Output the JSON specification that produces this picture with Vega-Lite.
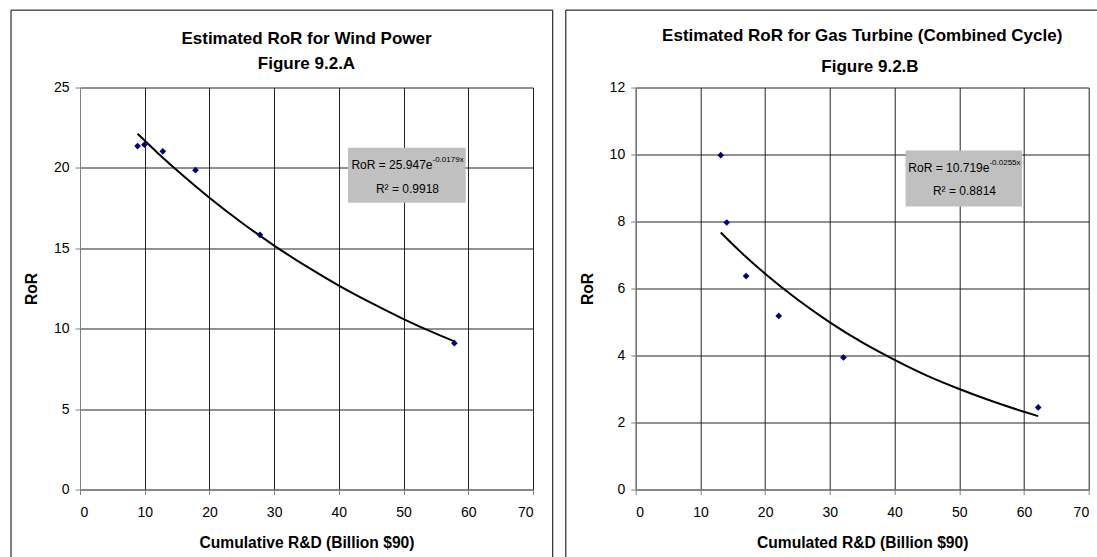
{
  "$schema": "https://vega.github.io/schema/vega-lite/v6.json",
  "padding": {"left": 10, "top": 9.5, "right": 0, "bottom": 0},
  "background": "white",
  "spacing": 10.7,
  "config": {
    "font": "Liberation Sans",
    "view": {"stroke": null},
    "axis": {
      "labelFont": "Liberation Sans", "labelFontSize": 14, "labelColor": "#000",
      "titleFont": "Liberation Sans", "titleFontSize": 15.6, "titleFontWeight": "bold", "titleColor": "#000",
      "gridColor": "#222", "gridWidth": 1, "gridOpacity": 1,
      "domainColor": "#808080", "tickColor": "#808080", "tickSize": 5
    },
    "title": {"font": "Liberation Sans", "fontSize": 17, "fontWeight": "bold", "color": "#000", "subtitleFont": "Liberation Sans", "subtitleFontSize": 17, "subtitleFontWeight": "bold", "subtitleColor": "#000"}
  },
  "datasets": {
    "windPts": [
      {"x": 8.9, "y": 21.36}, {"x": 9.95, "y": 21.44}, {"x": 12.8, "y": 21.03},
      {"x": 17.85, "y": 19.86}, {"x": 27.8, "y": 15.84}, {"x": 57.85, "y": 9.1}
    ],
    "windTrend": [
      {"x": 8.9, "y": 22.12}, {"x": 12, "y": 20.93}, {"x": 16, "y": 19.49}, {"x": 20, "y": 18.14},
      {"x": 25, "y": 16.59}, {"x": 30, "y": 15.17}, {"x": 35, "y": 13.87}, {"x": 40, "y": 12.68},
      {"x": 45, "y": 11.6}, {"x": 50, "y": 10.6}, {"x": 55, "y": 9.69}, {"x": 57.85, "y": 9.21}
    ],
    "gasPts": [
      {"x": 13.14, "y": 9.98}, {"x": 14.07, "y": 7.97}, {"x": 17.06, "y": 6.37},
      {"x": 22.1, "y": 5.18}, {"x": 32.1, "y": 3.94}, {"x": 62.2, "y": 2.45}
    ],
    "gasTrend": [
      {"x": 13.14, "y": 7.67}, {"x": 16, "y": 7.13}, {"x": 20, "y": 6.44}, {"x": 25, "y": 5.67},
      {"x": 30, "y": 4.99}, {"x": 35, "y": 4.39}, {"x": 40, "y": 3.87}, {"x": 45, "y": 3.4},
      {"x": 50, "y": 3.0}, {"x": 55, "y": 2.64}, {"x": 60, "y": 2.32}, {"x": 62.2, "y": 2.19}
    ],
    "windFrame": [{"x": -10.66, "x2": 73.05, "y": 29.81, "y2": -4.6}],
    "gasFrame": [{"x": -10.8, "x2": 71.74, "y": 14.31, "y2": -2.2}],
    "windBox": [{"x": 41.4, "x2": 59.6, "y": 21.26, "y2": 17.83}],
    "gasBox": [{"x": 41.7, "x2": 59.7, "y": 10.12, "y2": 8.45}],
    "windEq": [{"x": 54.47, "y": 20.2, "t": "RoR = 25.947e"}],
    "windExp": [{"x": 54.47, "y": 20.2, "t": "-0.0179x"}],
    "windR2": [{"x": 50.6, "y": 18.7, "t": "R² = 0.9918"}],
    "gasEq": [{"x": 54.66, "y": 9.6, "t": "RoR = 10.719e"}],
    "gasExp": [{"x": 54.66, "y": 9.6, "t": "-0.0255x"}],
    "gasR2": [{"x": 50.8, "y": 8.9, "t": "R² = 0.8814"}],
    "gasSub": [{"x": 36.2, "y": 12.6, "t": "Figure 9.2.B"}]
  },
  "hconcat": [
    {
      "width": 453, "height": 402,
      "title": {"text": "Estimated RoR for Wind Power", "subtitle": "Figure 9.2.A", "anchor": "middle", "offset": -63, "subtitlePadding": 8},
      "encoding": {
        "x": {"field": "x", "type": "quantitative", "scale": {"domain": [0, 70], "nice": false},
              "axis": {"title": "Cumulative R&D (Billion $90)", "values": [0,10,20,30,40,50,60,70], "labelPadding": 11, "titlePadding": 16}},
        "y": {"field": "y", "type": "quantitative", "scale": {"domain": [0, 25], "nice": false},
              "axis": {"title": "RoR", "values": [0,5,10,15,20,25], "labelPadding": 6, "titlePadding": 14}}
      },
      "layer": [
        {"data": {"name": "windFrame"}, "mark": {"type": "rect", "fill": null, "stroke": "#000", "strokeWidth": 1}, "encoding": {"x2": {"field": "x2"}, "y2": {"field": "y2"}}},
        {"data": {"name": "windBox"}, "mark": {"type": "rect", "fill": "#C0C0C0"}, "encoding": {"x2": {"field": "x2"}, "y2": {"field": "y2"}}},
        {"data": {"name": "windTrend"}, "mark": {"type": "line", "color": "#000", "strokeWidth": 2, "interpolate": "monotone"}},
        {"data": {"name": "windPts"}, "mark": {"type": "point", "shape": "diamond", "filled": true, "size": 45, "color": "#000080", "opacity": 1}},
        {"data": {"name": "windEq"}, "mark": {"type": "text", "align": "right", "baseline": "middle", "fontSize": 12, "color": "#000"}, "encoding": {"text": {"field": "t"}}},
        {"data": {"name": "windExp"}, "mark": {"type": "text", "align": "left", "baseline": "middle", "fontSize": 8, "dy": -5, "color": "#000"}, "encoding": {"text": {"field": "t"}}},
        {"data": {"name": "windR2"}, "mark": {"type": "text", "align": "center", "baseline": "middle", "fontSize": 12, "color": "#000"}, "encoding": {"text": {"field": "t"}}}
      ]
    },
    {
      "width": 453, "height": 402,
      "title": {"text": "Estimated RoR for Gas Turbine (Combined Cycle)", "anchor": "middle", "offset": -35.5},
      "encoding": {
        "x": {"field": "x", "type": "quantitative", "scale": {"domain": [0, 70], "nice": false},
              "axis": {"title": "Cumulated R&D (Billion $90)", "values": [0,10,20,30,40,50,60,70], "labelPadding": 11, "titlePadding": 16}},
        "y": {"field": "y", "type": "quantitative", "scale": {"domain": [0, 12], "nice": false},
              "axis": {"title": "RoR", "values": [0,2,4,6,8,10,12], "labelPadding": 6, "titlePadding": 14}}
      },
      "layer": [
        {"data": {"name": "gasFrame"}, "mark": {"type": "rect", "fill": null, "stroke": "#000", "strokeWidth": 1}, "encoding": {"x2": {"field": "x2"}, "y2": {"field": "y2"}}},
        {"data": {"name": "gasBox"}, "mark": {"type": "rect", "fill": "#C0C0C0"}, "encoding": {"x2": {"field": "x2"}, "y2": {"field": "y2"}}},
        {"data": {"name": "gasTrend"}, "mark": {"type": "line", "color": "#000", "strokeWidth": 2, "interpolate": "monotone"}},
        {"data": {"name": "gasPts"}, "mark": {"type": "point", "shape": "diamond", "filled": true, "size": 45, "color": "#000080", "opacity": 1}},
        {"data": {"name": "gasEq"}, "mark": {"type": "text", "align": "right", "baseline": "middle", "fontSize": 12, "color": "#000"}, "encoding": {"text": {"field": "t"}}},
        {"data": {"name": "gasExp"}, "mark": {"type": "text", "align": "left", "baseline": "middle", "fontSize": 8, "dy": -5, "color": "#000"}, "encoding": {"text": {"field": "t"}}},
        {"data": {"name": "gasR2"}, "mark": {"type": "text", "align": "center", "baseline": "middle", "fontSize": 12, "color": "#000"}, "encoding": {"text": {"field": "t"}}},
        {"data": {"name": "gasSub"}, "mark": {"type": "text", "align": "center", "baseline": "middle", "fontSize": 17, "fontWeight": "bold", "color": "#000"}, "encoding": {"text": {"field": "t"}}}
      ]
    }
  ]
}
